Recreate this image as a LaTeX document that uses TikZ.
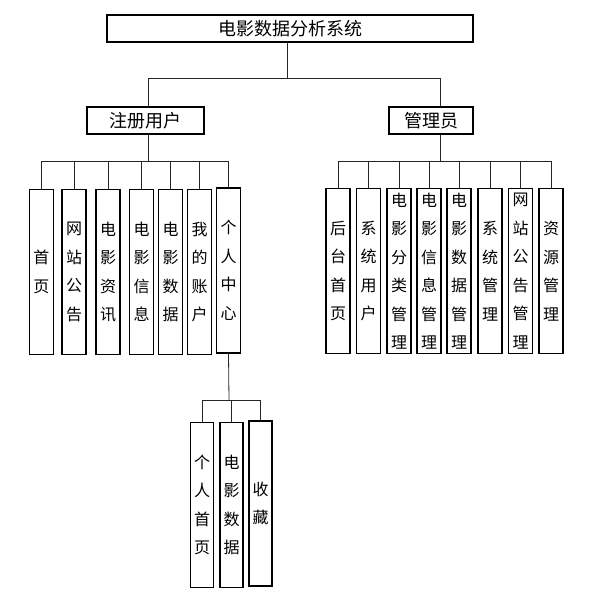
\documentclass[tikz,border=0pt]{standalone}
\usepackage{fontspec}
\newfontfamily\cjk{Noto Sans CJK SC}
\usetikzlibrary{positioning}

\tikzset{
  box/.style={draw, line width=1.3pt, inner sep=0pt, font=\cjk\fontsize{16}{28.5}\selectfont},
  hbox/.style={box, minimum height=27, font=\cjk\fontsize{18}{20}\selectfont},
  vbox/.style={box, minimum width=24, minimum height=165, align=center},
  link/.style={line width=0.8pt, draw=black!85}
}

\begin{document}
\begin{tikzpicture}[x=1pt, y=1pt]
      \useasboundingbox (0,0) rectangle (597,-598);

      \node[hbox, minimum width=366] (root) at (290,-28.5) {电影数据分析系统};
      \node[hbox, minimum width=117] (user) at (145.5,-120.5) {注册用户};
      \node[hbox, minimum width=84] (admin) at (431,-120.5) {管理员};

      \node[vbox] (u1) at (41.5,-272) {首\\页};
      \node[vbox] (u2) at (74,-272) {网\\站\\公\\告};
      \node[vbox] (u3) at (108,-272) {电\\影\\资\\讯};
      \node[vbox] (u4) at (141.5,-272) {电\\影\\信\\息};
      \node[vbox] (u5) at (170.5,-272) {电\\影\\数\\据};
      \node[vbox] (u6) at (199.5,-272) {我\\的\\账\\户};
      \node[vbox] (u7) at (228.5,-270.5) {个\\人\\中\\心};

      \node[vbox] (a1) at (338,-271) {后\\台\\首\\页};
      \node[vbox] (a2) at (368.5,-271) {系\\统\\用\\户};
      \node[vbox] (a3) at (399,-271) {电\\影\\分\\类\\管\\理};
      \node[vbox] (a4) at (429,-271) {电\\影\\信\\息\\管\\理};
      \node[vbox] (a5) at (459,-271) {电\\影\\数\\据\\管\\理};
      \node[vbox] (a6) at (490,-271) {系\\统\\管\\理};
      \node[vbox] (a7) at (520.5,-271) {网\\站\\公\\告\\管\\理};
      \node[vbox] (a8) at (551,-271) {资\\源\\管\\理};

      \node[vbox, minimum width=23] (c1) at (202,-505) {个\\人\\首\\页};
      \node[vbox, minimum width=23] (c2) at (231.5,-505) {电\\影\\数\\据};
      \node[vbox, minimum width=23] (c3) at (260.5,-503.5) {收\\藏};

      % junctions
      \coordinate (jr) at (287,-78);
      \coordinate (ju) at (148,-161);
      \coordinate (ja) at (440,-161);
      \coordinate (jc) at (229,-400);

      \draw[link] ([xshift=-3]root.south) -- (jr);
      \draw[link] ([xshift=2.5]user.north) |- (jr);
      \draw[link] ([xshift=9]admin.north) |- (jr);

      \draw[link] ([xshift=2.5]user.south) -- (ju);
      \draw[link] (u1.north) |- (ju);
      \draw[link] (u2.north) |- (ju);
      \draw[link] (u3.north) |- (ju);
      \draw[link] (u4.north) |- (ju);
      \draw[link] (u5.north) |- (ju);
      \draw[link] (u6.north) |- (ju);
      \draw[link] (u7.north) |- (ju);

      \draw[link] ([xshift=9]admin.south) -- (ja);
      \draw[link] (a1.north) |- (ja);
      \draw[link] (a2.north) |- (ja);
      \draw[link] (a3.north) |- (ja);
      \draw[link] (a4.north) |- (ja);
      \draw[link] (a5.north) |- (ja);
      \draw[link] (a6.north) |- (ja);
      \draw[link] (a7.north) |- (ja);
      \draw[link] (a8.north) |- (ja);

      \draw[link] (u7.south) -- (jc);
      \draw[link] (c1.north) |- (jc);
      \draw[link] (c2.north) |- (jc);
      \draw[link] (c3.north) |- (jc);
\end{tikzpicture}
\end{document}
